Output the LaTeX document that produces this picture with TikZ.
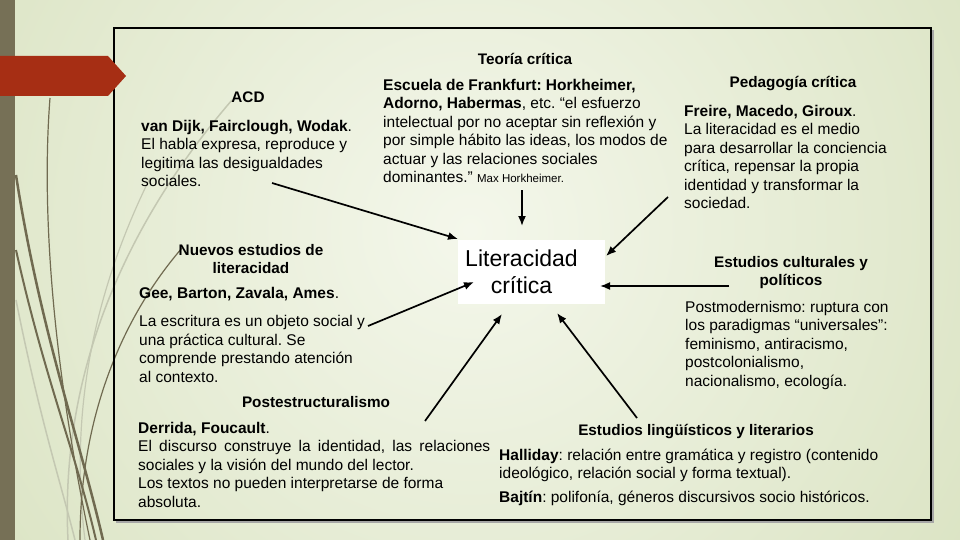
\documentclass[tikz,border=0pt]{standalone}
\usepackage{fontspec}
\setmainfont{Liberation Sans}
\usetikzlibrary{arrows.meta}
\definecolor{bgout}{RGB}{218,227,194}
\definecolor{bgin}{RGB}{244,247,235}
\definecolor{band}{RGB}{118,112,86}
\definecolor{banner}{RGB}{166,46,20}
\definecolor{curvedark}{RGB}{112,106,80}
\definecolor{curvelight}{RGB}{196,200,178}
\newcommand{\bodyfont}{\fontsize{15.5}{18.5}\selectfont\frenchspacing}
\newcommand{\ttlfont}{\fontsize{15.3}{18.5}\selectfont\bfseries\frenchspacing}
\tikzset{
  body/.style={anchor=north west, inner sep=0pt, align=left, font=\bodyfont},
  ttl/.style={anchor=base, inner sep=0pt, font=\ttlfont},
  ttltwo/.style={anchor=north, inner sep=0pt, align=center, font=\ttlfont},
  conn/.style={line width=1.7pt, -{Latex[length=10pt,width=8pt]}},
  deco/.style={curvedark, line width=#1},
  decol/.style={curvelight, line width=#1},
}
\begin{document}
\begin{tikzpicture}[x=1pt,y=-1pt]
\useasboundingbox (0,0) rectangle (960,540);
% slide background
\begin{scope}
  \clip (0,0) rectangle (960,540);
  \fill[bgout] (0,0) rectangle (960,540);
  \shade[inner color=bgin, outer color=bgout] (470pt,-230pt) circle (620pt);
\end{scope}
\fill[band] (0,0) rectangle (15,540);
% decorative curves
\draw[decol=1.5pt] (232,100) .. controls (120,230) and (60,380) .. (68,540);
\draw[decol=1.5pt] (16,300) .. controls (40,420) and (60,480) .. (75,540);
\draw[decol=1.2pt] (150,178) .. controls (90,300) and (70,420) .. (85,540);
\draw[deco=1.2pt] (182,248) .. controls (120,320) and (80,420) .. (80,540);
\draw[deco=1.2pt] (50,98) .. controls (42,200) and (50,350) .. (90,540);
\draw[deco=2.5pt] (16,175) .. controls (40,330) and (80,440) .. (103,540);
\draw[deco=2pt] (16,250) .. controls (45,380) and (75,450) .. (96,540);
% frame
\draw[gray!70, line width=1.5pt] (116,522) -- (933,522) -- (933,30);
\draw[black, line width=1.8pt] (114,28) rectangle (931,520);
% banner
\fill[banner] (0,56) -- (108,56) -- (126,76) -- (108,96) -- (0,96) -- cycle;

% centre
\node[fill=white, inner sep=0pt, minimum width=147pt, minimum height=64pt] (lcbox) at (531.5,271.5) {};
\node[inner sep=0pt, align=center, font=\fontsize{23}{27.3}\selectfont] (lc) at (521.5,272) {Literacidad\\crítica};

% Teoria critica
\node[ttl] (teot) at (525,65) {Teoría crítica};
\node[body] (teob) at (383,77) {\strut\textbf{Escuela de Frankfurt: Horkheimer,}\\
\textbf{Adorno, Habermas}, etc. “el esfuerzo\\
intelectual por no aceptar sin reflexión y\\
por simple hábito las ideas, los modos de\\
actuar y las relaciones sociales\\
dominantes.” {\fontsize{11.5}{14}\selectfont Max Horkheimer.}};

% ACD
\node[ttl] (acdt) at (248,103) {ACD};
\node[body] (acdb) at (141,118) {\strut\textbf{van Dijk, Fairclough, Wodak}.\\
El habla expresa, reproduce y\\
legitima las desigualdades\\
sociales.};

% Pedagogia critica
\node[ttl] (pedt) at (793,88) {Pedagogía crítica};
\node[body] (pedb) at (684,103) {\strut\textbf{Freire, Macedo, Giroux}.\\
La literacidad es el medio\\
para desarrollar la conciencia\\
crítica, repensar la propia\\
identidad y transformar la\\
sociedad.};

% Nuevos estudios
\node[ttltwo] (nuet) at (251,242) {\strut Nuevos estudios de\\literacidad};
\node[body] (nueb) at (139,285) {\strut\textbf{Gee, Barton, Zavala, Ames}.\\[10pt]
La escritura es un objeto social y\\
una práctica cultural. Se\\
comprende prestando atención\\
al contexto.};

% Estudios culturales
\node[ttltwo] (cult) at (791,254) {\strut Estudios culturales y\\políticos};
\node[body] (culb) at (685,299) {\strut Postmodernismo: ruptura con\\
los paradigmas “universales”:\\
feminismo, antiracismo,\\
postcolonialismo,\\
nacionalismo, ecología.};

% Postestructuralismo
\node[ttl] (post) at (316,407) {Postestructuralismo};
\node[body] (posb) at (138,420) {\strut\textbf{Derrida, Foucault}.\\
\makebox[352pt][s]{El discurso construye la identidad, las relaciones}\\
sociales y la visión del mundo del lector.\\
Los textos no pueden interpretarse de forma\\
absoluta.};

% Estudios linguisticos
\node[ttl] (lint) at (696,435) {Estudios lingüísticos y literarios};
\node[body] (linb) at (499,447) {\strut\textbf{Halliday}: relación entre gramática y registro (contenido\\
ideológico, relación social y forma textual).\\[5.5pt]
\textbf{Bajtín}: polifonía, géneros discursivos socio históricos.};

% connector ends
\coordinate (sACD) at (272,183);  \coordinate (tACD) at (458,239);
\coordinate (sTEO) at (522,190);  \coordinate (tTEO) at (522,226);
\coordinate (sPED) at (668,197);  \coordinate (tPED) at (606,256);
\coordinate (sCUL) at (729,286);  \coordinate (tCUL) at (600,286);
\coordinate (sNUE) at (368,326);  \coordinate (tNUE) at (474,282);
\coordinate (sPOS) at (425,421);  \coordinate (tPOS) at (502,314);
\coordinate (sLIN) at (637,418);  \coordinate (tLIN) at (557,313);
\draw[conn] (sACD) -- (tACD);
\draw[conn] (sTEO) -- (tTEO);
\draw[conn] (sPED) -- (tPED);
\draw[conn] (sCUL) -- (tCUL);
\draw[conn] (sNUE) -- (tNUE);
\draw[conn] (sPOS) -- (tPOS);
\draw[conn] (sLIN) -- (tLIN);
\end{tikzpicture}
\end{document}
